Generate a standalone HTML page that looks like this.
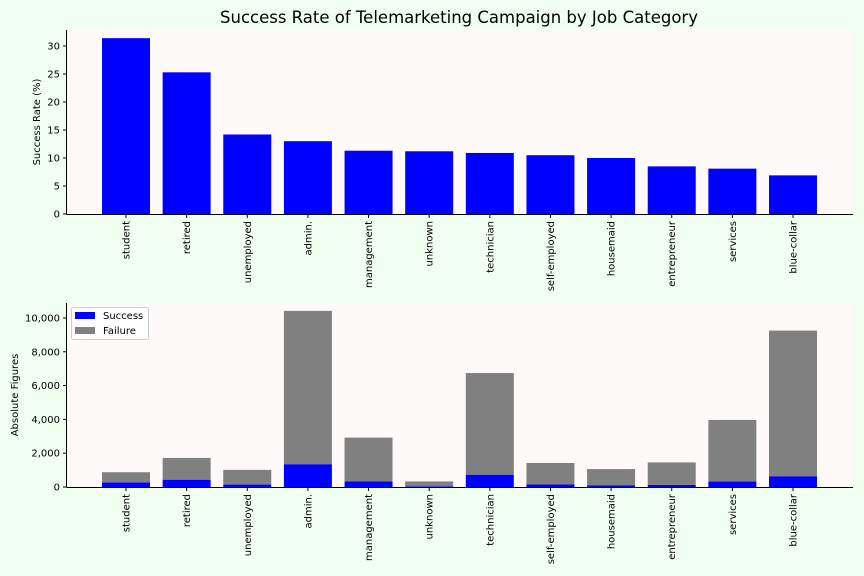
<!DOCTYPE html>
<html><head><meta charset="utf-8"><style>
body{margin:0;background:#f0fff0;}
svg{display:block;font-family:"DejaVu Sans","Liberation Sans",sans-serif;}
</style></head><body>
<svg id="c" width="864" height="576"></svg>
<script>
const categories=["student","retired","unemployed","admin.","management","unknown","technician","self-employed","housemaid","entrepreneur","services","blue-collar"];
const rates=[31.4,25.3,14.2,13.0,11.3,11.2,10.9,10.5,10.0,8.5,8.1,6.9];
const successVals=[275,434,144,1352,328,37,730,149,106,124,323,638];
const failureVals=[600,1286,870,9070,2596,293,6013,1272,954,1332,3646,8616];
const rateTicks=[0,5,10,15,20,25,30];
const absTicks=[0,2000,4000,6000,8000,10000];
const absTickLabels=["0","2,000","4,000","6,000","8,000","10,000"];

const NS="http://www.w3.org/2000/svg";
const svg=document.getElementById('c');
function el(t,a,p){const e=document.createElementNS(NS,t);for(const k in a)e.setAttribute(k,a[k]);(p||svg).appendChild(e);return e;}
const X0=67,X1=853;
function xc(i){return 126+i*(793-126)/11;}
const bw=48;

// Top chart
const T={top:30,bot:214};
function yTop(v){return 214-v*5.6;}
let g=el('g',{});
el('rect',{x:X0,y:T.top,width:X1-X0,height:T.bot-T.top,fill:'#fffafa'},g);
let t=el('text',{x:459,y:23,'text-anchor':'middle','font-size':16.5,fill:'#000'},g);t.textContent='Success Rate of Telemarketing Campaign by Job Category';

rates.forEach((v,i)=>{const r=el('rect',{x:xc(i)-bw/2,y:yTop(v),width:bw,height:214-yTop(v),fill:'#0000ff'},g);
});
rateTicks.forEach(v=>{el('line',{x1:X0-4,x2:X0,y1:yTop(v),y2:yTop(v),stroke:'#000'},g);
const tx=el('text',{x:X0-7,y:yTop(v)+3.5,'text-anchor':'end','font-size':10},g);tx.textContent=v;
});
t=el('text',{transform:'translate(40,122) rotate(-90)','text-anchor':'middle','font-size':10},g);t.textContent='Success Rate (%)';

categories.forEach((c,i)=>{el('line',{x1:xc(i),x2:xc(i),y1:214,y2:218,stroke:'#000'},g);
const tx=el('text',{transform:`translate(${xc(i)+3.5},221) rotate(-90)`,'text-anchor':'end','font-size':10},g);tx.textContent=c;
});
el('line',{x1:X0-0.5,x2:X0-0.5,y1:T.top,y2:214.5,stroke:'#000'},g);
el('line',{x1:X0-0.5,x2:X1,y1:214.5,y2:214.5,stroke:'#000'},g);

// Bottom chart
function yB(v){return 487-v*0.0169;}
g=el('g',{});
el('rect',{x:X0,y:303,width:X1-X0,height:184,fill:'#fffafa'},g);
categories.forEach((c,i)=>{const s=successVals[i],f=failureVals[i];
let r=el('rect',{x:xc(i)-bw/2,y:yB(s),width:bw,height:487-yB(s),fill:'#0000ff'},g);

r=el('rect',{x:xc(i)-bw/2,y:yB(s+f),width:bw,height:yB(s)-yB(s+f),fill:'#808080'},g);

el('line',{x1:xc(i),x2:xc(i),y1:487,y2:491,stroke:'#000'},g);
const tx=el('text',{transform:`translate(${xc(i)+3.5},494) rotate(-90)`,'text-anchor':'end','font-size':10},g);tx.textContent=c;
});
absTicks.forEach((v,k)=>{el('line',{x1:X0-4,x2:X0,y1:yB(v),y2:yB(v),stroke:'#000'},g);
const tx=el('text',{x:X0-7,y:yB(v)+3.5,'text-anchor':'end','font-size':10},g);tx.textContent=absTickLabels[k];
});
t=el('text',{transform:'translate(18,395) rotate(-90)','text-anchor':'middle','font-size':10},g);t.textContent='Absolute Figures';

el('line',{x1:X0-0.5,x2:X0-0.5,y1:303,y2:487.5,stroke:'#000'},g);
el('line',{x1:X0-0.5,x2:X1,y1:487.5,y2:487.5,stroke:'#000'},g);
// legend
const lg=el('g',{},g);
el('rect',{x:71.5,y:307.5,width:77,height:32,rx:2,fill:'#fff','fill-opacity':0.8,stroke:'#ccc'},lg);
el('rect',{x:75,y:312,width:20,height:7,fill:'#0000ff'},lg);
el('rect',{x:75,y:327,width:20,height:7,fill:'#808080'},lg);
t=el('text',{x:103,y:319,'font-size':10},lg);t.textContent='Success';

t=el('text',{x:103,y:334,'font-size':10},lg);t.textContent='Failure';

</script>
</body></html>
